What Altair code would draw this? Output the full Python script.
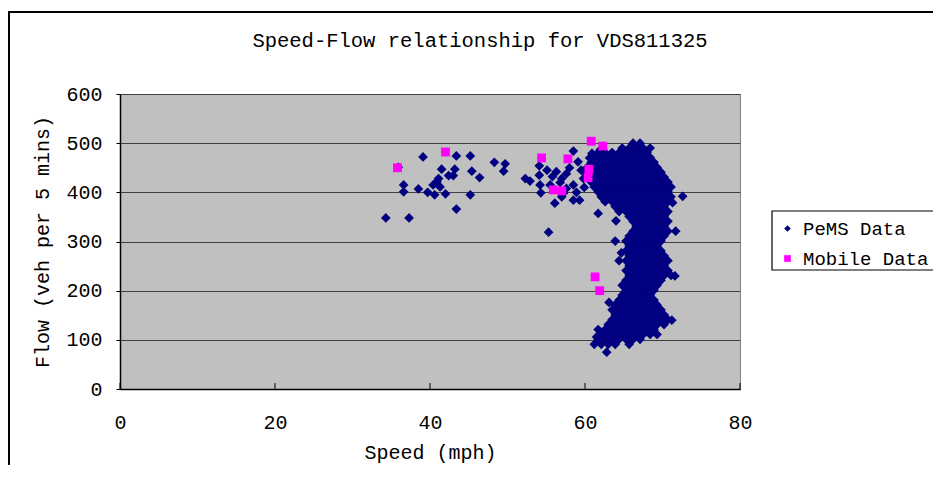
import altair as alt
import pandas as pd

title_text = "Speed-Flow relationship for VDS811325"
x_title = "Speed (mph)"
y_title = "Flow (veh per 5 mins)"
series_names = ["PeMS Data", "Mobile Data"]
series_colors = ["#000080", "#FF00FF"]
x_ticks = [0, 20, 40, 60, 80]
y_ticks = [0, 100, 200, 300, 400, 500, 600]

# Mobile probe observations (pink squares)
mobile_speed = [35.8, 42.0, 54.4, 55.9, 57.0, 57.8, 60.5, 60.4, 60.8, 62.3, 61.3, 61.9]
mobile_flow = [450, 482, 470, 405, 403, 468, 447, 430, 504, 494, 228, 200]

# PeMS loose points (left scatter + stragglers around the main cloud)
pems_scatter_speed = [35.9, 34.3, 37.3, 36.6, 36.6, 38.5, 39.1, 39.7, 40.4, 40.6,
                      40.9, 41.1, 41.3, 41.5, 42.0, 42.4, 43.0, 43.2, 43.4, 43.4,
                      45.2, 45.4, 45.2, 46.4, 48.3, 49.7, 49.5, 52.3, 52.9, 54.1,
                      55.1, 54.1, 54.2, 54.3, 56.1, 55.3, 58.5, 57.0, 56.3, 57.6,
                      58.5, 59.3, 59.1, 58.5, 57.0, 55.5, 57.6, 59.8, 56.8, 58.0,
                      59.5, 55.8, 57.2, 58.9, 59.9, 61.7, 64.0, 63.9, 64.7, 63.1,
                      61.5, 62.8, 72.6, 71.7, 71.6, 71.2, 71.3, 60.9, 62.0, 60.6]
pems_scatter_flow = [451, 348, 348, 415, 401, 407, 472, 400, 415, 395,
                     422, 428, 411, 447, 397, 434, 434, 447, 474, 366,
                     474, 443, 395, 430, 461, 458, 443, 428, 423, 454,
                     445, 435, 415, 399, 378, 319, 484, 428, 442, 438,
                     384, 384, 462, 415, 391, 415, 408, 428, 420, 450,
                     445, 432, 398, 400, 410, 357, 342, 301, 277, 176,
                     106, 75, 392, 321, 230, 140, 379, 479, 487, 470]

# PeMS dense cloud, read row by row (flow level, speeds seen on that level)
pems_cluster_rows = [
    (500, [66.2, 67.1]),
    (490, [64.8, 65.7, 66.6, 67.5, 68.4]),
    (481, [61.7, 62.6, 63.5, 64.4, 65.3, 66.2, 67.1, 68.0]),
    (471, [61.2, 62.1, 63.0, 63.9, 64.8, 65.7, 66.6, 67.5, 68.4]),
    (461, [60.8, 61.7, 62.6, 63.5, 64.4, 65.3, 66.2, 67.1, 68.0, 68.9]),
    (451, [60.3, 61.2, 62.1, 63.0, 63.9, 64.8, 65.7, 66.6, 67.5, 68.4, 69.3]),
    (441, [59.9, 60.8, 61.7, 62.6, 63.5, 64.4, 65.3, 66.2, 67.1, 68.0, 68.9, 69.8]),
    (431, [60.3, 61.2, 62.1, 63.0, 63.9, 64.8, 65.7, 66.6, 67.5, 68.4, 69.3, 70.2]),
    (421, [60.8, 61.7, 62.6, 63.5, 64.4, 65.3, 66.2, 67.1, 68.0, 68.9, 69.8, 70.7]),
    (411, [61.2, 62.1, 63.0, 63.9, 64.8, 65.7, 66.6, 67.5, 68.4, 69.3, 70.2, 71.1]),
    (401, [61.7, 62.6, 63.5, 64.4, 65.3, 66.2, 67.1, 68.0, 68.9, 69.8, 70.7]),
    (391, [62.1, 63.0, 63.9, 64.8, 65.7, 66.6, 67.5, 68.4, 69.3, 70.2, 71.1]),
    (381, [62.6, 63.5, 64.4, 65.3, 66.2, 67.1, 68.0, 68.9, 69.8, 70.7]),
    (371, [63.9, 64.8, 65.7, 66.6, 67.5, 68.4, 69.3, 70.2]),
    (361, [64.4, 65.3, 66.2, 67.1, 68.0, 68.9, 69.8, 70.7]),
    (351, [65.7, 66.6, 67.5, 68.4, 69.3, 70.2]),
    (341, [66.2, 67.1, 68.0, 68.9, 69.8, 70.7]),
    (331, [66.6, 67.5, 68.4, 69.3, 70.2]),
    (321, [66.2, 67.1, 68.0, 68.9, 69.8, 70.7]),
    (311, [65.7, 66.6, 67.5, 68.4, 69.3, 70.2]),
    (301, [65.3, 66.2, 67.1, 68.0, 68.9, 69.8]),
    (291, [65.7, 66.6, 67.5, 68.4, 69.3]),
    (281, [65.3, 66.2, 67.1, 68.0, 68.9, 69.8]),
    (271, [65.7, 66.6, 67.5, 68.4, 69.3, 70.2]),
    (261, [64.4, 65.3, 66.2, 67.1, 68.0, 68.9, 69.8, 70.7]),
    (251, [65.7, 66.6, 67.5, 68.4, 69.3, 70.2]),
    (241, [65.3, 66.2, 67.1, 68.0, 68.9, 69.8, 70.7]),
    (231, [65.7, 66.6, 67.5, 68.4, 69.3, 70.2, 71.1]),
    (221, [65.3, 66.2, 67.1, 68.0, 68.9, 69.8]),
    (211, [64.8, 65.7, 66.6, 67.5, 68.4, 69.3]),
    (201, [65.3, 66.2, 67.1, 68.0, 68.9]),
    (191, [64.8, 65.7, 66.6, 67.5, 68.4]),
    (181, [64.4, 65.3, 66.2, 67.1, 68.0, 68.9]),
    (171, [63.9, 64.8, 65.7, 66.6, 67.5, 68.4, 69.3]),
    (161, [63.5, 64.4, 65.3, 66.2, 67.1, 68.0, 68.9, 69.8]),
    (151, [63.9, 64.8, 65.7, 66.6, 67.5, 68.4, 69.3, 70.2]),
    (141, [63.5, 64.4, 65.3, 66.2, 67.1, 68.0, 68.9, 69.8, 70.7]),
    (131, [63.0, 63.9, 64.8, 65.7, 66.6, 67.5, 68.4, 69.3, 70.2]),
    (121, [61.7, 62.6, 63.5, 64.4, 65.3, 66.2, 67.1, 68.0, 68.9]),
    (111, [62.1, 63.0, 63.9, 64.8, 65.7, 66.6, 67.5, 68.4, 69.3]),
    (101, [61.7, 62.6, 63.5, 64.4, 65.3, 66.2, 67.1]),
    (91, [61.2, 62.1, 63.0, 63.9, 65.7]),
]

# ---- build tables ----
pems_rows = [{"speed": s, "flow": f, "series": series_names[0]}
             for s, f in zip(pems_scatter_speed, pems_scatter_flow)]
for f, speeds in pems_cluster_rows:
    for s in speeds:
        pems_rows.append({"speed": s, "flow": f, "series": series_names[0]})
pems_df = pd.DataFrame(pems_rows)
mobile_df = pd.DataFrame({"speed": mobile_speed, "flow": mobile_flow,
                          "series": [series_names[1]] * len(mobile_speed)})
tick_df = pd.DataFrame({"speed": x_ticks})

FONT = "Liberation Mono"
W, H = 620, 295

x_scale = alt.Scale(domain=[0, 80], nice=False, zero=True)
y_scale = alt.Scale(domain=[0, 600], nice=False, zero=True)
color_scale = alt.Scale(domain=series_names, range=series_colors)
shape_scale = alt.Scale(domain=series_names, range=["diamond", "square"])

legend = alt.Legend(
    title=None, orient="none", legendX=650, legendY=117,
    padding=8, labelFont=FONT, labelFontSize=19, labelColor="black",
    symbolSize=45, rowPadding=10, labelOffset=6,
)

x_axis = alt.Axis(values=x_ticks, title=x_title, grid=False, ticks=False,
                  labelFlush=False, labelPadding=23, titlePadding=10,
                  domainColor="black", domainWidth=1.5)
y_axis = alt.Axis(values=y_ticks, title=y_title, grid=True, gridColor="#404040",
                  gridWidth=1, ticks=True, tickSize=4, tickColor="black",
                  labelFlush=False, labelPadding=14, titlePadding=13,
                  domainColor="black", domainWidth=1.5)


def enc():
    return dict(
        x=alt.X("speed:Q", scale=x_scale, axis=x_axis),
        y=alt.Y("flow:Q", scale=y_scale, axis=y_axis),
        color=alt.Color("series:N", scale=color_scale, legend=legend),
        shape=alt.Shape("series:N", scale=shape_scale, legend=legend),
    )


pems_layer = alt.Chart(pems_df).mark_point(filled=True, size=95, opacity=1).encode(**enc())
mobile_layer = alt.Chart(mobile_df).mark_point(filled=True, size=78, opacity=1).encode(**enc())

tick_layer = alt.Chart(tick_df).mark_rule(color="black", strokeWidth=1).encode(
    x=alt.X("speed:Q", scale=x_scale),
    y=alt.value(H),
    y2=alt.value(H - 6),
)

frame_layer = alt.Chart(alt.Data(values=[{"a": 1}])).mark_rect(
    fillOpacity=0, stroke="black", strokeWidth=2
).encode(
    x=alt.value(-111), x2=alt.value(900), y=alt.value(-82), y2=alt.value(600)
)

# legend box (its right side runs past the picture edge, as in the original)
legend_box_layer = alt.Chart(alt.Data(values=[{"a": 1}])).mark_rect(
    fill="white", stroke="black", strokeWidth=1.2
).encode(
    x=alt.value(652), x2=alt.value(900), y=alt.value(117), y2=alt.value(176)
)

title_layer = alt.Chart(alt.Data(values=[{"a": 1}])).mark_text(
    font=FONT, fontSize=20.5, color="black", align="center", baseline="middle"
).encode(
    x=alt.value(360), y=alt.value(-53), text=alt.value(title_text)
)

chart = alt.layer(legend_box_layer, pems_layer, mobile_layer, tick_layer,
                  frame_layer, title_layer).properties(
    width=W, height=H,
    autosize=alt.AutoSizeParams(type="none"),
    padding={"left": 112, "top": 86, "right": 193, "bottom": 76},
    background="white",
).configure_view(
    fill="#C0C0C0", stroke="#808080", strokeWidth=1
).configure_axis(
    labelFont=FONT, labelFontSize=20, labelColor="black",
    titleFont=FONT, titleFontSize=20, titleFontWeight="normal", titleColor="black",
)

chart.save("out.html", embed_options={"renderer": "svg", "actions": False})
